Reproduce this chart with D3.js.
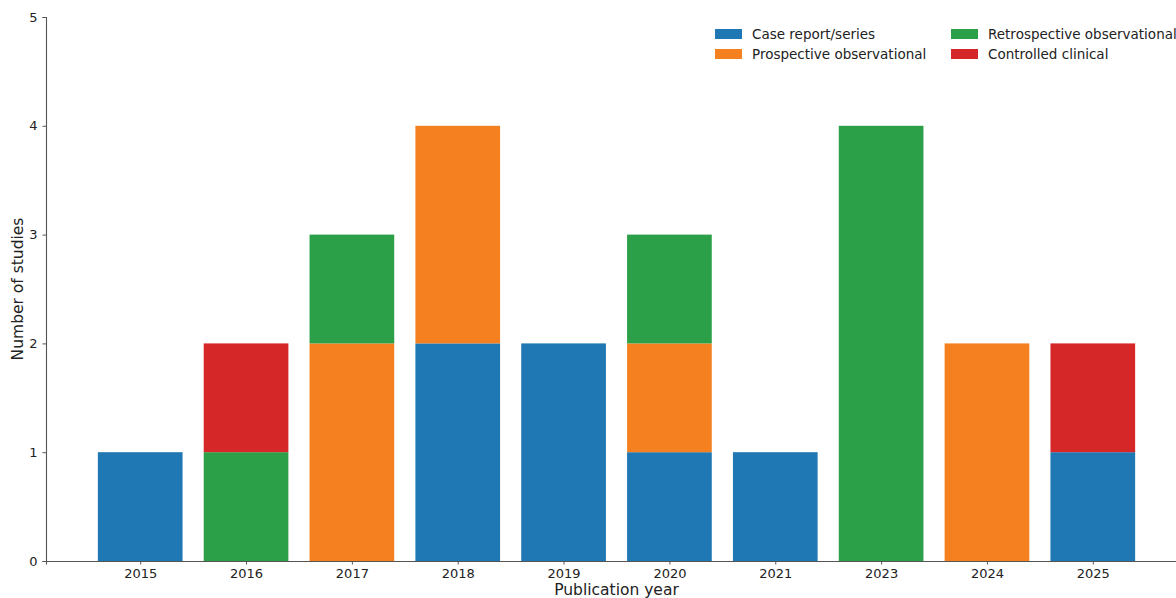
<!DOCTYPE html>
<html>
<head>
<meta charset="utf-8">
<script src="https://cdn.jsdelivr.net/npm/d3@7"></script>
<style>
  body { margin: 0; background: #fff; }
  svg { display: block; font-family: "DejaVu Sans", sans-serif; }
</style>
</head>
<body>
<div id="chart"></div>
<script>
// Data
const years = ["2015", "2016", "2017", "2018", "2019", "2020", "2021", "2023", "2024", "2025"];
const seriesNames = ["Case report/series", "Prospective observational", "Retrospective observational", "Controlled clinical"];
const caseReport    = [1, 0, 0, 2, 2, 1, 1, 0, 0, 1];
const prospective   = [0, 0, 2, 2, 0, 1, 0, 0, 2, 0];
const retrospective = [0, 1, 1, 0, 0, 1, 0, 4, 0, 0];
const controlled    = [0, 1, 0, 0, 0, 0, 0, 0, 0, 1];
const yTicks = [0, 1, 2, 3, 4, 5];
const colors = ["#1f77b4", "#f58020", "#2ca049", "#d62728"];

const W = 1176, H = 598;
const svg = d3.select("#chart").append("svg")
    .attr("width", W)
    .attr("height", H);

// Scales
const x = d3.scaleLinear()
    .domain([-0.89, years.length - 1 + 0.89])
    .range([46, 1187]);
const y = d3.scaleLinear()
    .domain([0, 5])
    .range([561, 17]);
const barW = x(0.8) - x(0);

// Stacked data
const table = years.map((yr, i) => ({
    idx: i,
    [seriesNames[0]]: caseReport[i],
    [seriesNames[1]]: prospective[i],
    [seriesNames[2]]: retrospective[i],
    [seriesNames[3]]: controlled[i]
}));
const stacked = d3.stack().keys(seriesNames)(table);

// Bars
svg.append("g")
  .selectAll("g")
  .data(stacked)
  .join("g")
    .attr("fill", (d, i) => colors[i])
  .selectAll("rect")
  .data(d => d.filter(s => s[1] - s[0] > 0))
  .join("rect")
    .attr("x", d => x(d.data.idx) - barW / 2)
    .attr("y", d => y(d[1]))
    .attr("width", barW)
    .attr("height", d => y(d[0]) - y(d[1]));

// Axes
const xAxis = svg.append("g")
    .attr("transform", `translate(0,${y(0)})`)
    .call(d3.axisBottom(x)
        .tickValues(d3.range(years.length))
        .tickFormat(i => years[i])
        .tickSizeOuter(0)
        .tickSize(3.5)
        .tickPadding(4));

const yAxis = svg.append("g")
    .attr("transform", `translate(${x.range()[0]},0)`)
    .call(d3.axisLeft(y)
        .tickValues(yTicks)
        .tickFormat(d3.format("d"))
        .tickSizeOuter(0)
        .tickSize(3.5)
        .tickPadding(5));

[xAxis, yAxis].forEach(a => {
    a.select(".domain").attr("stroke", "#555").attr("stroke-width", 1.1);
    a.selectAll(".tick line").attr("stroke", "#555");
    a.selectAll(".tick text")
        .attr("fill", "#222")
        .style("font-size", "13px")
        .style("font-family", "DejaVu Sans");
});

// Axis labels
svg.append("text")
    .attr("x", (46 + 1187) / 2)
    .attr("y", 595)
    .attr("text-anchor", "middle")
    .attr("fill", "#222")
    .style("font-size", "15.5px")
    .text("Publication year");

svg.append("text")
    .attr("transform", "rotate(-90)")
    .attr("x", -(17 + 561) / 2)
    .attr("y", 23)
    .attr("text-anchor", "middle")
    .attr("fill", "#222")
    .style("font-size", "15.5px")
    .text("Number of studies");

// Legend (two columns)
const legend = svg.append("g");
seriesNames.forEach((name, i) => {
    const col = Math.floor(i / 2), row = i % 2;
    const g = legend.append("g")
        .attr("transform", `translate(${715 + col * 236},${34 + row * 20})`);
    g.append("rect")
        .attr("x", 0)
        .attr("y", -5)
        .attr("width", 27)
        .attr("height", 10)
        .attr("fill", colors[i]);
    g.append("text")
        .attr("x", 37)
        .attr("y", 0)
        .attr("dy", "0.35em")
        .attr("fill", "#222")
        .style("font-size", "13.5px")
        .text(name);
});
</script>
</body>
</html>
